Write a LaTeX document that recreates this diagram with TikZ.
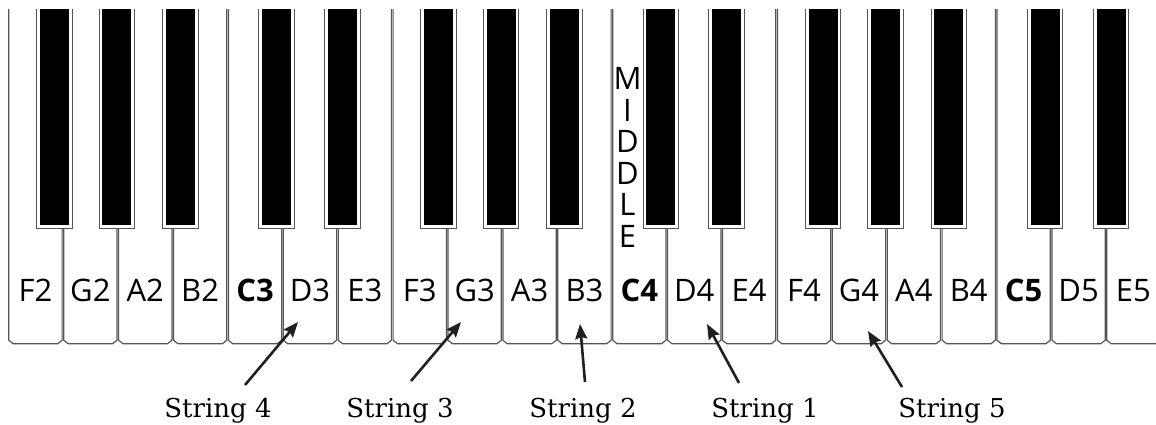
\documentclass[tikz,border=0pt]{standalone}
\usepackage{fontspec}
\setmainfont{DejaVu Serif}
\newfontfamily\keyfont{Open Sans}
\usetikzlibrary{arrows.meta}

\definecolor{keyline}{RGB}{85,85,85}
\definecolor{arrowgray}{RGB}{35,31,32}

\tikzset{
  whitekey/.style={draw=keyline, line width=1.2pt},
  blackrim/.style={draw=keyline, line width=1pt, fill=white},
  blackcore/.style={fill=black},
  notereg/.style={font=\keyfont\fontsize{31}{31}\selectfont, inner sep=0pt},
  notebold/.style={font=\keyfont\bfseries\fontsize{31}{31}\selectfont, inner sep=0pt},
  middlemark/.style={font=\keyfont\fontsize{31}{31.5}\selectfont, inner sep=0pt, align=center},
  stringlabel/.style={font=\fontsize{26}{26}\selectfont, inner sep=0pt, anchor=base},
  pointer/.style={draw=arrowgray, line width=2.6pt, -{Stealth[length=15pt,width=12pt,inset=2pt]}},
}

\begin{document}
\begin{tikzpicture}[x=1pt,y=-1pt]
\useasboundingbox (0,0) rectangle (1156,424);
\clip (0,0) rectangle (1156,424);

% white keys, F2 to E5
\foreach \n/\s [count=\i from 0] in {F2/notereg,G2/notereg,A2/notereg,B2/notereg,
    C3/notebold,D3/notereg,E3/notereg,F3/notereg,G3/notereg,A3/notereg,B3/notereg,
    C4/notebold,D4/notereg,E4/notereg,F4/notereg,G4/notereg,A4/notereg,B4/notereg,
    C5/notebold,D5/notereg,E5/notereg} {
  \pgfmathsetmacro\xl{8+\i*54.9+0.8}
  \pgfmathsetmacro\xr{8+(\i+1)*54.9-0.8}
  \draw[whitekey] (\xl,9) -- (\xl,340.2) -- (\xl+4.5,343.8) -- (\xr-4.5,343.8)
        -- (\xr,340.2) -- (\xr,9);
  \node[\s] (key\n) at ({8+(\i+0.5)*54.9},290.5) {\n};
}

% black keys: boundary index / offset from that boundary
\foreach \b/\o in {1/-8.5,2/-1,3/7.5,5/-6,6/5,8/-8.5,9/-1,10/7.5,12/-6,13/5,
    15/-8.5,16/-1,17/7.5,19/-6,20/5} {
  \pgfmathsetmacro\c{8+\b*54.9+\o}
  \path[blackrim] (\c-17.8,9) -- (\c-17.8,228) -- (\c+17.8,228) -- (\c+17.8,9);
  \fill[blackcore] (\c-14.5,9) rectangle (\c+14.5,224.5);
}

% middle C marker
\node[middlemark] (middle) at (627.5,157.5) {M\\I\\D\\D\\L\\E};

% string labels
\node[stringlabel] (lab4) at (218,417) {String 4};
\node[stringlabel] (lab3) at (400,417) {String 3};
\node[stringlabel] (lab2) at (583,417) {String 2};
\node[stringlabel] (lab1) at (765,417) {String 1};
\node[stringlabel] (lab5) at (952,417) {String 5};

% arrow ends
\coordinate (tail4) at (245,385);
\coordinate (tip4)  at (298,322);
\coordinate (tail3) at (411,381);
\coordinate (tip3)  at (461,322);
\coordinate (tail2) at (585,382);
\coordinate (tip2)  at (580,324);
\coordinate (tail1) at (739,383);
\coordinate (tip1)  at (707,324);
\coordinate (tail5) at (902,387);
\coordinate (tip5)  at (868,331);

\draw[pointer] (tail4) -- (tip4);
\draw[pointer] (tail3) -- (tip3);
\draw[pointer] (tail2) -- (tip2);
\draw[pointer] (tail1) -- (tip1);
\draw[pointer] (tail5) -- (tip5);
\end{tikzpicture}
\end{document}
